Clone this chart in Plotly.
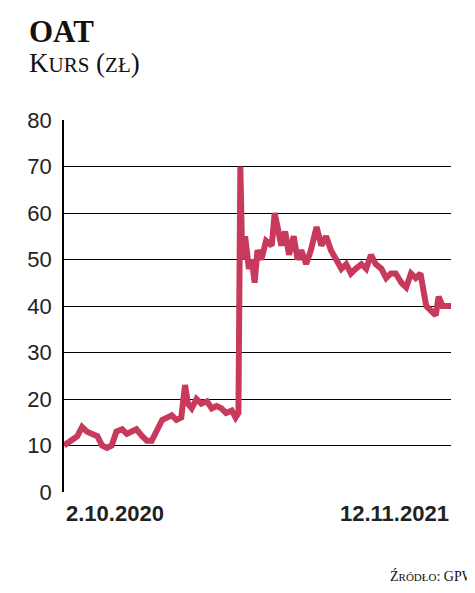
import plotly.graph_objects as go

dates = ["2020-10-02","2020-10-10","2020-10-16","2020-10-21","2020-10-26","2020-10-31","2020-11-06","2020-11-11","2020-11-16","2020-11-21","2020-11-26","2020-12-02","2020-12-07","2020-12-12","2020-12-17","2020-12-23","2020-12-28","2021-01-02","2021-01-07","2021-01-13","2021-01-18","2021-01-23","2021-01-28","2021-02-02","2021-02-06","2021-02-09","2021-02-13","2021-02-18","2021-02-23","2021-03-01","2021-03-06","2021-03-11","2021-03-16","2021-03-21","2021-03-27","2021-03-31","2021-04-03","2021-04-05","2021-04-07","2021-04-10","2021-04-14","2021-04-17","2021-04-20","2021-04-23","2021-04-27","2021-05-02","2021-05-08","2021-05-11","2021-05-14","2021-05-18","2021-05-22","2021-05-26","2021-05-31","2021-06-04","2021-06-08","2021-06-13","2021-06-18","2021-06-24","2021-06-29","2021-07-04","2021-07-09","2021-07-15","2021-07-20","2021-07-25","2021-07-30","2021-08-04","2021-08-10","2021-08-15","2021-08-20","2021-08-25","2021-08-31","2021-09-05","2021-09-10","2021-09-15","2021-09-21","2021-09-26","2021-10-01","2021-10-06","2021-10-11","2021-10-17","2021-10-22","2021-10-27","2021-10-30","2021-11-03","2021-11-08","2021-11-12"]
prices = [10,11,12,14,13,12.5,12,10,9.5,10,13,13.5,12.5,13,13.5,12,11,11,13,15.5,16,16.5,15.5,16,23,19,18,20,19,19.5,18,18.5,18,17,17.5,16,17,70,50,55,48,50,45,52,50,54,53,60,57,53,56,51,55,50,52,49,52,57,53,55,52,50,48,49,47,48,49,48,51,49,48,46,47,47,45,44,47,46,47,40,39,38,42,40,40,40]
y_ticks = [0,10,20,30,40,50,60,70,80]
x_labels = ["2.10.2020", "12.11.2021"]

narrow = "Liberation Sans Narrow, Arial Narrow, sans-serif"
fig = go.Figure(go.Scatter(x=dates, y=prices, mode="lines",
                           line=dict(color="#c83a5c", width=6), hoverinfo="skip"))
fig.update_layout(
    width=475, height=593, paper_bgcolor="white", plot_bgcolor="white",
    margin=dict(l=56, r=32, t=112, b=109), showlegend=False,
    xaxis=dict(range=[dates[0], dates[-1]], showticklabels=False, showgrid=False,
               zeroline=False, showline=False),
    yaxis=dict(range=[0, 80], tickvals=y_ticks, showgrid=True, gridcolor="black",
               gridwidth=1, zeroline=False, showline=True, linecolor="black",
               linewidth=1.5, ticks="", ticklabelstandoff=6,
               tickfont=dict(family=narrow, size=22, color="#222")),
)
fig.add_annotation(text="<b>OAT</b>", xref="paper", yref="paper", x=-0.095, y=1.29,
                   xanchor="left", yanchor="top", showarrow=False,
                   font=dict(family="Liberation Serif, serif", size=31, color="#111"))
fig.add_annotation(text="K<span style='font-size:21px'>URS</span> (<span style='font-size:21px'>ZŁ</span>)",
                   xref="paper", yref="paper", x=-0.095, y=1.2, xanchor="left", yanchor="top",
                   showarrow=False, font=dict(family="Liberation Serif, serif", size=27, color="#111"))
fig.add_annotation(text="<b>" + x_labels[0] + "</b>", xref="paper", yref="paper", x=0, y=-0.02,
                   xanchor="left", yanchor="top", showarrow=False,
                   font=dict(family=narrow, size=22, color="#222"))
fig.add_annotation(text="<b>" + x_labels[1] + "</b>", xref="paper", yref="paper", x=1, y=-0.02,
                   xanchor="right", yanchor="top", showarrow=False,
                   font=dict(family=narrow, size=22, color="#222"))
fig.add_annotation(text="Ź<span style='font-size:11px'>RÓDŁO</span>: GPW", xref="paper", yref="paper",
                   x=1.07, y=-0.2, xanchor="right", yanchor="top", showarrow=False,
                   font=dict(family="Liberation Serif, serif", size=14, color="#111"))
fig.write_html("out.html")
